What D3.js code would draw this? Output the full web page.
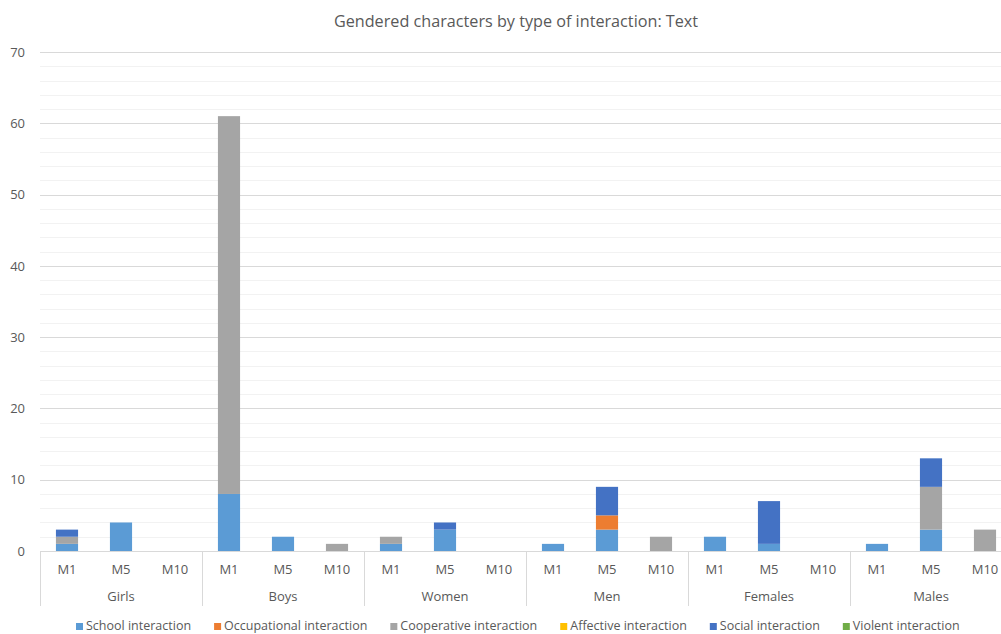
<!DOCTYPE html>
<html>
<head>
<meta charset="utf-8">
<script src="https://cdn.jsdelivr.net/npm/d3@7"></script>
<style>
  html, body { margin: 0; padding: 0; background: #fff; }
  svg { display: block; font-family: "Open Sans", "Noto Sans", sans-serif; }
</style>
</head>
<body>
<svg id="chart" width="1001" height="634"></svg>
<script>
// Groups of characters and the three measurement points within each
const groups = ["Girls", "Boys", "Women", "Men", "Females", "Males"];
const moments = ["M1", "M5", "M10"];

// Interaction types, in stacking order (bottom to top)
const seriesNames = ["School interaction", "Occupational interaction", "Cooperative interaction",
                     "Affective interaction", "Social interaction", "Violent interaction"];
const seriesColors = ["#5B9BD5", "#ED7D31", "#A5A5A5", "#FFC000", "#4472C4", "#70AD47"];

// Counts per series, one value per (group, moment) in order Girls M1..Males M10
const school       = [1, 4, 0,  8, 2, 0,  1, 3, 0,  1, 3, 0,  2, 1, 0,  1, 3, 0];
const occupational = [0, 0, 0,  0, 0, 0,  0, 0, 0,  0, 2, 0,  0, 0, 0,  0, 0, 0];
const cooperative  = [1, 0, 0, 53, 0, 1,  1, 0, 0,  0, 0, 2,  0, 0, 0,  0, 6, 3];
const affective    = [0, 0, 0,  0, 0, 0,  0, 0, 0,  0, 0, 0,  0, 0, 0,  0, 0, 0];
const social       = [1, 0, 0,  0, 0, 0,  0, 1, 0,  0, 4, 0,  0, 6, 0,  0, 4, 0];
const violent      = [0, 0, 0,  0, 0, 0,  0, 0, 0,  0, 0, 0,  0, 0, 0,  0, 0, 0];

const yTicks = [0, 10, 20, 30, 40, 50, 60, 70];
const title = "Gendered characters by type of interaction: Text";

const seriesValues = [school, occupational, cooperative, affective, social, violent];

// Build one row per bar
const rows = [];
groups.forEach((g, gi) => moments.forEach((m, mi) => {
  const i = gi * moments.length + mi;
  const row = { key: g + "|" + m, group: g, moment: m };
  seriesNames.forEach((s, si) => { row[s] = seriesValues[si][i]; });
  rows.push(row);
}));

const svg = d3.select("#chart");
const margin = { left: 40, top: 52, bottom: 551 };
const plotRight = 1012;

const x = d3.scaleBand().domain(rows.map(d => d.key))
  .range([margin.left, plotRight]).paddingInner(0.59).paddingOuter(0.295);
const y = d3.scaleLinear().domain([0, 70]).range([margin.bottom, margin.top]);

// Title
svg.append("text").attr("x", 516).attr("y", 27).attr("text-anchor", "middle")
  .attr("font-size", 16.2).attr("fill", "#595959").text(title);

// Minor gridlines every 2, major gridlines every 10
const minor = d3.range(2, 70, 2).filter(v => v % 10 !== 0);
svg.append("g").selectAll("line").data(minor).join("line")
  .attr("x1", margin.left).attr("x2", plotRight)
  .attr("y1", d => Math.round(y(d)) + 0.5).attr("y2", d => Math.round(y(d)) + 0.5)
  .attr("stroke", "#f2f2f2").attr("stroke-width", 1);
svg.append("g").selectAll("line").data(yTicks.filter(v => v > 0)).join("line")
  .attr("x1", margin.left).attr("x2", plotRight)
  .attr("y1", d => Math.round(y(d)) + 0.5).attr("y2", d => Math.round(y(d)) + 0.5)
  .attr("stroke", "#d9d9d9").attr("stroke-width", 1);

// Y axis labels
const yAxis = d3.axisLeft(y).tickValues(yTicks).tickSize(0).tickPadding(0);
const yg = svg.append("g").attr("transform", "translate(25,0)").call(yAxis);
yg.select(".domain").remove();
yg.selectAll("text").attr("font-size", 13).attr("fill", "#595959")
  .attr("font-family", "\"Open Sans\", \"Noto Sans\", sans-serif");

// Stacked bars
const stack = d3.stack().keys(seriesNames);
const stacked = stack(rows);
svg.append("g").selectAll("g").data(stacked).join("g")
  .attr("fill", (d, i) => seriesColors[i])
  .selectAll("rect").data(d => d.filter(p => p[1] > p[0])).join("rect")
  .attr("x", d => x(d.data.key))
  .attr("width", x.bandwidth())
  .attr("y", d => y(d[1]))
  .attr("height", d => y(d[0]) - y(d[1]));

// Category axis: baseline, moment labels, group labels and separators
const axisY = Math.round(y(0)) + 0.5;
svg.append("line").attr("x1", margin.left).attr("x2", plotRight)
  .attr("y1", axisY).attr("y2", axisY).attr("stroke", "#d9d9d9");

const gx = d3.scaleBand().domain(groups).range([margin.left, plotRight]);
const sep = d3.range(groups.length + 1).map(i => margin.left + i * gx.step());
svg.append("g").selectAll("line").data(sep).join("line")
  .attr("x1", d => Math.round(d) + 0.5).attr("x2", d => Math.round(d) + 0.5)
  .attr("y1", axisY).attr("y2", 606).attr("stroke", "#d9d9d9");

svg.append("g").selectAll("text").data(rows).join("text")
  .attr("x", d => x(d.key) + x.bandwidth() / 2).attr("y", 574)
  .attr("text-anchor", "middle").attr("font-size", 13).attr("fill", "#595959")
  .text(d => d.moment);

svg.append("g").selectAll("text").data(groups).join("text")
  .attr("x", d => gx(d) + gx.bandwidth() / 2).attr("y", 601)
  .attr("text-anchor", "middle").attr("font-size", 13).attr("fill", "#595959")
  .text(d => d);

// Legend along the bottom
const legend = svg.append("g");
let lx = 76;
seriesNames.forEach((s, i) => {
  legend.append("rect").attr("x", lx).attr("y", 623).attr("width", 7).attr("height", 7)
    .attr("fill", seriesColors[i]);
  const t = legend.append("text").attr("x", lx + 10).attr("y", 630)
    .attr("font-size", 12.5).attr("fill", "#595959").text(s);
  lx += 10 + t.node().getComputedTextLength() + 23;
});
</script>
</body>
</html>
